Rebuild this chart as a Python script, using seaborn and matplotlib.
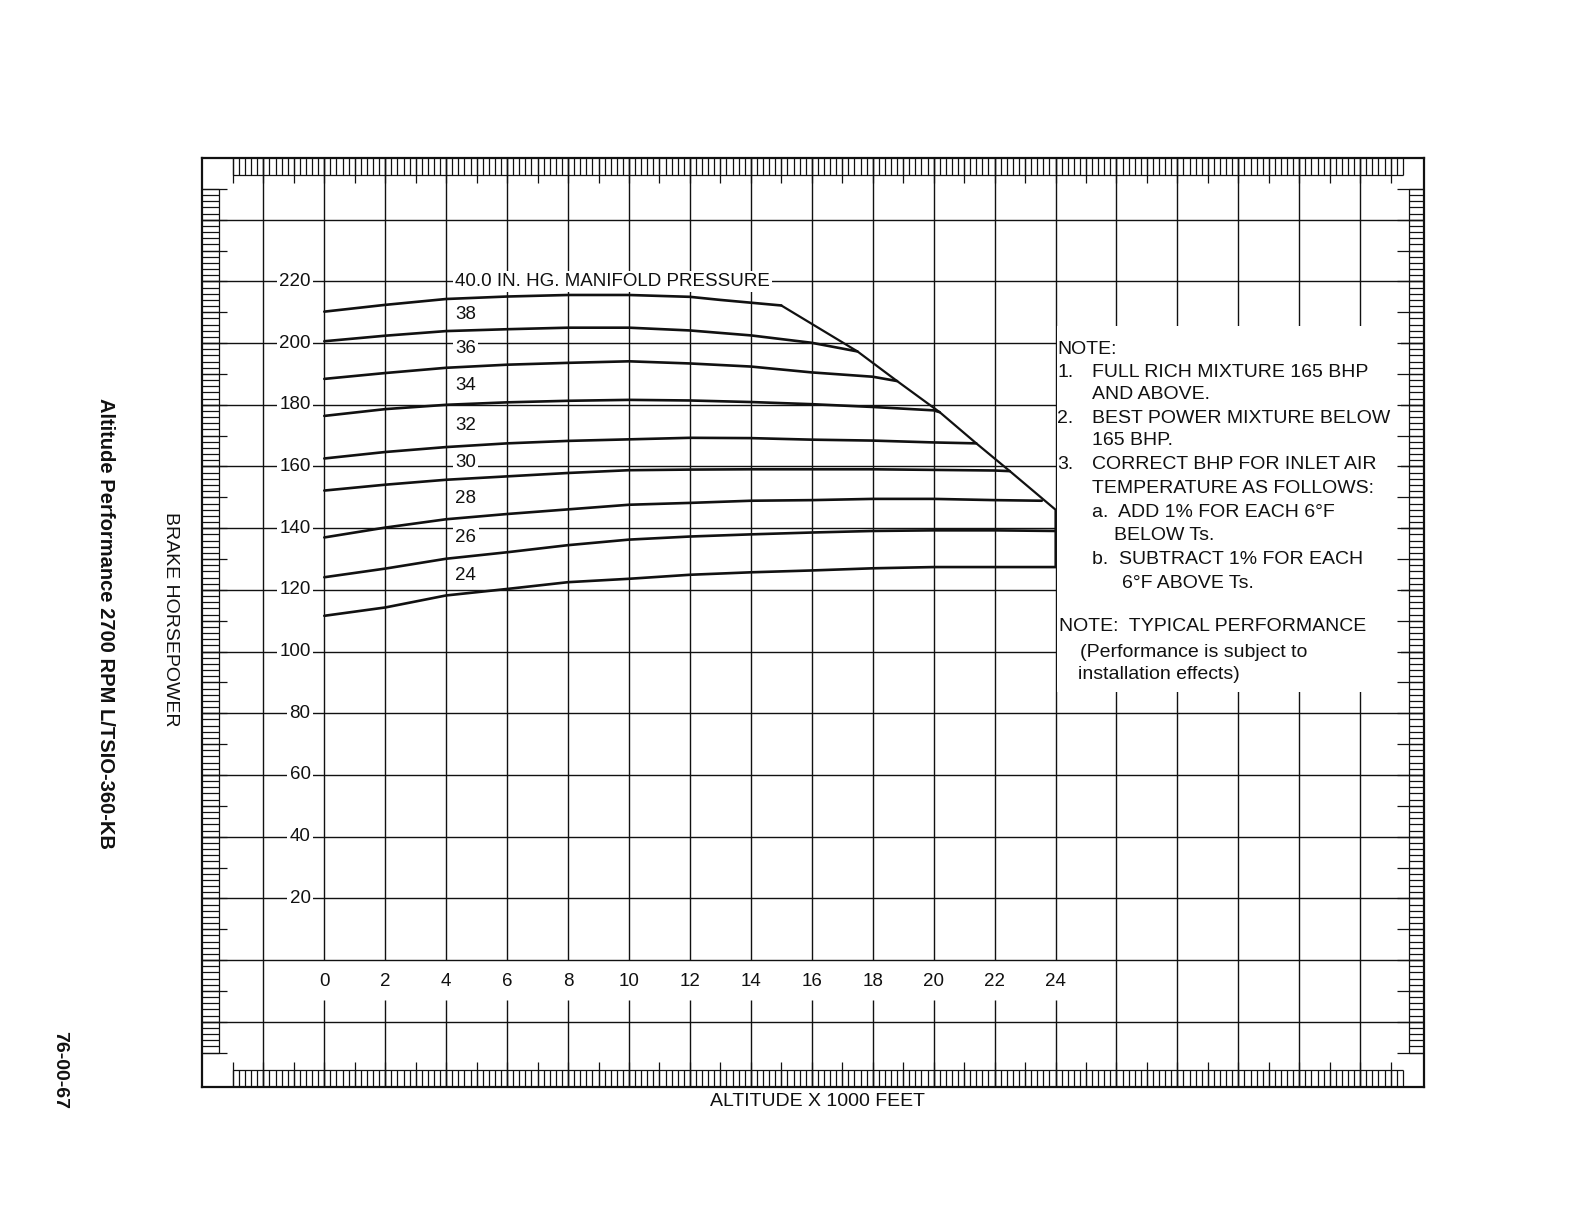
import numpy as np
import pandas as pd
import matplotlib
matplotlib.use("Agg")
import matplotlib.pyplot as plt
from matplotlib.patches import Rectangle
import seaborn as sns

# === Setup ===
sns.set_theme(style="white")
plt.rcParams["font.family"] = ["Liberation Sans", "DejaVu Sans"]

# === Data ===
mp_names = ["40.0", "38", "36", "34", "32", "30", "28", "26", "24"]

alt_40 = [0, 2, 4, 6, 8, 10, 12, 13, 15.0]
bhp_40 = [210.2, 212.4, 214.3, 215.1, 215.6, 215.6, 215.0, 214.0, 212.2]

alt_38 = [0, 2, 4, 6, 8, 10, 12, 14, 16, 17.5]
bhp_38 = [200.6, 202.4, 203.9, 204.5, 205.0, 205.0, 204.1, 202.5, 200.1, 197.3]

alt_36 = [0, 2, 4, 6, 8, 10, 12, 14, 16, 18, 18.8]
bhp_36 = [188.4, 190.3, 192.0, 193.0, 193.6, 194.1, 193.4, 192.4, 190.5, 189.1, 187.7]

alt_34 = [0, 2, 4, 6, 8, 10, 12, 14, 16, 18, 20, 20.2]
bhp_34 = [176.4, 178.6, 180.0, 180.8, 181.3, 181.6, 181.4, 180.9, 180.2, 179.3, 178.2, 177.6]

alt_32 = [0, 2, 4, 6, 8, 10, 12, 14, 16, 18, 20, 21.4]
bhp_32 = [162.6, 164.7, 166.3, 167.5, 168.3, 168.8, 169.3, 169.2, 168.7, 168.4, 167.8, 167.5]

alt_30 = [0, 2, 4, 6, 8, 10, 12, 14, 16, 18, 20, 22, 22.5]
bhp_30 = [152.2, 154.1, 155.7, 156.8, 157.9, 158.8, 159.0, 159.1, 159.1, 159.1, 158.9, 158.7, 158.5]

alt_28 = [0, 2, 4, 6, 8, 10, 12, 14, 16, 18, 20, 22, 23.55]
bhp_28 = [137.0, 140.2, 142.9, 144.6, 146.1, 147.6, 148.2, 148.9, 149.1, 149.5, 149.5, 149.1, 148.9]

alt_26 = [0, 2, 4, 6, 8, 10, 12, 14, 16, 18, 20, 22, 24]
bhp_26 = [124.1, 126.9, 130.1, 132.2, 134.5, 136.3, 137.3, 138.0, 138.6, 139.1, 139.3, 139.3, 139.1]

alt_24 = [0, 2, 4, 6, 8, 10, 12, 14, 16, 18, 20, 22, 24]
bhp_24 = [111.6, 114.3, 118.2, 120.3, 122.5, 123.6, 124.9, 125.7, 126.3, 127.0, 127.4, 127.4, 127.4]

# critical altitude limit line
crit_alt = [15.0, 17.5, 18.8, 20.2, 21.4, 22.5, 24.0, 24.0]
crit_bhp = [212.2, 197.3, 187.7, 177.6, 167.5, 158.5, 146.0, 127.4]

x_ticks = [0, 2, 4, 6, 8, 10, 12, 14, 16, 18, 20, 22, 24]
y_ticks = [20, 40, 60, 80, 100, 120, 140, 160, 180, 200, 220]

notes = [
    ("NOTE:", 24.06, 198.0),
    ("1.", 24.06, 190.5), ("FULL RICH MIXTURE 165 BHP", 25.19, 190.5),
    ("AND ABOVE.", 25.19, 183.3),
    ("2.", 24.06, 175.5), ("BEST POWER MIXTURE BELOW", 25.19, 175.5),
    ("165 BHP.", 25.19, 168.3),
    ("3.", 24.06, 160.5), ("CORRECT BHP FOR INLET AIR", 25.19, 160.5),
    ("TEMPERATURE AS FOLLOWS:", 25.19, 152.9),
    ("a.  ADD 1% FOR EACH 6°F", 25.19, 145.1),
    ("BELOW Ts.", 25.92, 137.6),
    ("b.  SUBTRACT 1% FOR EACH", 25.19, 129.7),
    ("6°F ABOVE Ts.", 26.19, 122.2),
    ("NOTE:  TYPICAL PERFORMANCE", 24.13, 108.2),
    ("(Performance is subject to", 24.79, 99.7),
    ("installation effects)", 24.73, 92.5),
]

curves = [(alt_40, bhp_40), (alt_38, bhp_38), (alt_36, bhp_36), (alt_34, bhp_34),
          (alt_32, bhp_32), (alt_30, bhp_30), (alt_28, bhp_28), (alt_26, bhp_26),
          (alt_24, bhp_24)]
df = pd.concat([pd.DataFrame({"altitude": a, "bhp": b, "mp": n})
                for n, (a, b) in zip(mp_names, curves)], ignore_index=True)
crit = pd.DataFrame({"altitude": crit_alt, "bhp": crit_bhp})

# === Figure ===
fig = plt.figure(figsize=(15.84, 12.24), dpi=100)
XL, XR, YB, YT = -4.0, 36.1, -41.0, 260.0
ax = fig.add_axes([0.1278, 0.1123, 0.7713, 0.7586])
ink = "#111111"

# grid
gx = np.arange(-2, 35, 2)
lo = np.where((gx >= 0) & (gx <= 24), 0.0, YB)
ax.vlines(gx, lo, YT, color=ink, lw=1.0, zorder=1)
ax.vlines(x_ticks, YB, -13.0, color=ink, lw=1.0, zorder=1)
ax.hlines(np.arange(-20, 241, 20), XL, XR, color=ink, lw=1.0, zorder=1)

# ruler bands
xt = np.arange(-3.0, 35.41, 0.2)
xm = np.arange(-3, 36, 1)
ax.vlines(xt, 254.5, YT, color=ink, lw=0.9, zorder=2)
ax.vlines(xm, 252.0, YT, color=ink, lw=0.9, zorder=2)
ax.hlines(254.5, -3.0, 35.4, color=ink, lw=0.9, zorder=2)
ax.vlines(xt, YB, -35.5, color=ink, lw=0.9, zorder=2)
ax.vlines(xm, YB, -33.0, color=ink, lw=0.9, zorder=2)
ax.hlines(-35.5, -3.0, 35.4, color=ink, lw=0.9, zorder=2)

yt = np.arange(-30, 251, 2)
ym = np.arange(-30, 251, 10)
ax.hlines(yt, XL, -3.45, color=ink, lw=0.9, zorder=2)
ax.hlines(ym, XL, -3.2, color=ink, lw=0.9, zorder=2)
ax.vlines(-3.45, -30, 250, color=ink, lw=0.9, zorder=2)
ax.hlines(yt, 35.6, XR, color=ink, lw=0.9, zorder=5)
ax.hlines(ym, 35.2, XR, color=ink, lw=0.9, zorder=5)
ax.vlines(35.6, -30, 250, color=ink, lw=0.9, zorder=5)

# white notes panel over the grid
ax.add_patch(Rectangle((24.06, 87), 35.35 - 24.06, 205.6 - 87,
                       facecolor="white", edgecolor="none", zorder=3))

# curves
sns.lineplot(data=df, x="altitude", y="bhp", units="mp", estimator=None,
             color=ink, lw=1.9, ax=ax, zorder=4)
sns.lineplot(data=crit, x="altitude", y="bhp", sort=False, estimator=None,
             color=ink, lw=1.6, ax=ax, zorder=4)

# labels
box = dict(boxstyle="square,pad=0.12", facecolor="white", edgecolor="none")
for v in y_ticks:
    ax.text(-0.45, v, str(v), ha="right", va="center", fontsize=13.5,
            color=ink, bbox=box, zorder=6)
for v in x_ticks:
    ax.text(v, -7.0, str(v), ha="center", va="center", fontsize=13.5,
            color=ink, zorder=6)

lab_x = 4.6
ax.text(4.3, 220, "40.0 IN. HG. MANIFOLD PRESSURE", ha="left", va="center",
        fontsize=13.5, color=ink, bbox=box, zorder=6)
for i in range(1, len(mp_names)):
    ya = np.interp(lab_x, *curves[i - 1])
    yb = np.interp(lab_x, *curves[i])
    ax.text(4.3, (ya + yb) / 2, mp_names[i], ha="left", va="center",
            fontsize=13.5, color=ink, bbox=box, zorder=6)

for txt, x, y in notes:
    ax.text(x, y, txt, ha="left", va="center", fontsize=14, color=ink, zorder=6)

ax.text(16.2, -46.0, "ALTITUDE X 1000 FEET", ha="center", va="center",
        fontsize=14, color=ink, clip_on=False)
fig.text(170 / 1584, 1 - 619 / 1224, "BRAKE HORSEPOWER", rotation=270,
         ha="center", va="center", fontsize=14, color=ink)
fig.text(105 / 1584, 1 - 623 / 1224, "Altitude Performance 2700 RPM L/TSIO-360-KB",
         rotation=270, ha="center", va="center", fontsize=14.5,
         fontweight="bold", color=ink)
fig.text(60 / 1584, 1 - 1070 / 1224, "76-00-67", rotation=270,
         ha="center", va="center", fontsize=14, fontweight="bold", color=ink)

ax.set_xlim(XL, XR)
ax.set_ylim(YB, YT)
ax.set_xticks([])
ax.set_yticks([])
ax.set_xlabel("")
ax.set_ylabel("")
for s in ax.spines.values():
    s.set_color(ink)
    s.set_linewidth(1.6)

fig.savefig("out.png", dpi=100)
plt.close(fig)
